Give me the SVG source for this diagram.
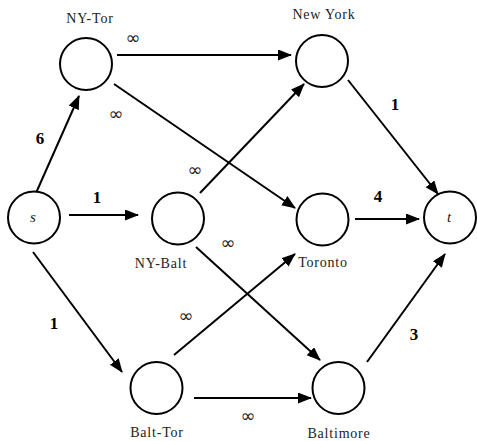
<svg xmlns="http://www.w3.org/2000/svg" width="477" height="441" viewBox="0 0 477 441">
<style>
.n{fill:#fff;stroke:#000;stroke-width:2}
.e{stroke:#000;stroke-width:2;fill:none}
.lb{font-family:"Liberation Serif","DejaVu Serif",serif;font-size:14px;letter-spacing:0.8px;fill:#222;text-anchor:middle}
.w{font-family:"Liberation Serif","DejaVu Serif",serif;font-size:17px;font-weight:bold;fill:#000;text-anchor:middle}
.inf{font-family:"DejaVu Sans","Liberation Sans",sans-serif;font-size:18px;fill:#222;text-anchor:middle}
.it{font-family:"Liberation Serif",serif;font-size:15px;font-style:italic;fill:#222;text-anchor:middle}
</style>
<defs>
<marker id="a" markerUnits="userSpaceOnUse" markerWidth="14" markerHeight="12" refX="13" refY="5.5" orient="auto">
<path d="M0,0 L14,5.5 L0,11 z" fill="#000"/>
</marker>
</defs>
<g id="connectors">
<line class="e" x1="117" y1="55" x2="291" y2="55" marker-end="url(#a)"/>
<line class="e" x1="114" y1="84" x2="295" y2="208" marker-end="url(#a)"/>
<line class="e" x1="36" y1="193" x2="79" y2="96" marker-end="url(#a)"/>
<line class="e" x1="69" y1="215" x2="138" y2="215" marker-end="url(#a)"/>
<line class="e" x1="33" y1="252" x2="122" y2="372" marker-end="url(#a)"/>
<line class="e" x1="200" y1="193" x2="304" y2="84" marker-end="url(#a)"/>
<line class="e" x1="196" y1="247" x2="320" y2="360" marker-end="url(#a)"/>
<line class="e" x1="174" y1="355" x2="295" y2="254" marker-end="url(#a)"/>
<line class="e" x1="194" y1="398" x2="311" y2="398" marker-end="url(#a)"/>
<line class="e" x1="355" y1="219" x2="419" y2="219" marker-end="url(#a)"/>
<line class="e" x1="348" y1="80" x2="438" y2="194" marker-end="url(#a)"/>
<line class="e" x1="367" y1="362" x2="445" y2="254" marker-end="url(#a)"/>
<text class="inf" x="133" y="44">∞</text>
<text class="inf" x="116" y="120">∞</text>
<text class="w" x="40" y="144">6</text>
<text class="w" x="97" y="203">1</text>
<text class="inf" x="195" y="176">∞</text>
<text class="inf" x="228" y="249">∞</text>
<text class="w" x="54" y="329">1</text>
<text class="inf" x="186" y="322">∞</text>
<text class="inf" x="248" y="422">∞</text>
<text class="w" x="378" y="202">4</text>
<text class="w" x="395" y="110">1</text>
<text class="w" x="414" y="340">3</text>
</g>
<g id="NY-Tor">
<circle class="n" cx="86" cy="64" r="26"/>
<text class="lb" x="90" y="23">NY-Tor</text>
</g>
<g id="NewYork">
<circle class="n" cx="322" cy="61" r="26"/>
<text class="lb" x="324" y="19">New York</text>
</g>
<g id="s">
<circle class="n" cx="34" cy="217.5" r="26"/>
<text class="it" x="33" y="222">s</text>
</g>
<g id="NY-Balt">
<circle class="n" cx="178" cy="218.5" r="26"/>
<text class="lb" x="161" y="268">NY-Balt</text>
</g>
<g id="Toronto">
<circle class="n" cx="322.5" cy="219.5" r="26"/>
<text class="lb" x="323" y="267">Toronto</text>
</g>
<g id="t">
<circle class="n" cx="450" cy="217.5" r="26"/>
<text class="it" x="449" y="222">t</text>
</g>
<g id="Balt-Tor">
<circle class="n" cx="156.5" cy="388" r="26"/>
<text class="lb" x="157" y="437">Balt-Tor</text>
</g>
<g id="Baltimore">
<circle class="n" cx="338.5" cy="388" r="26"/>
<text class="lb" x="339" y="438">Baltimore</text>
</g>
</svg>
